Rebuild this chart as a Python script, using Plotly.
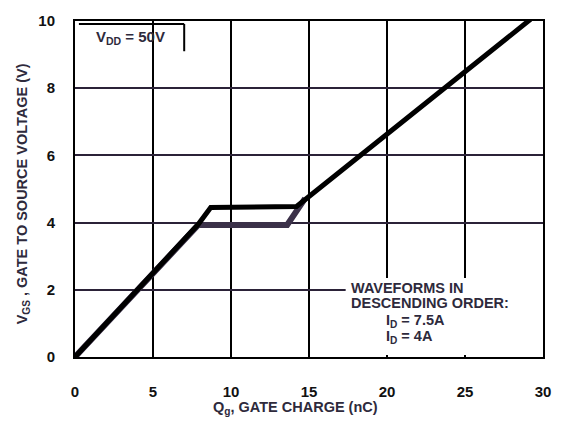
import plotly.graph_objects as go

# Data
qg_75 = [0, 7.9, 8.7, 14.2, 29.2]
vgs_75 = [0, 3.95, 4.45, 4.48, 10.05]
qg_4 = [0, 7.9, 13.6, 14.75]
vgs_4 = [0, 3.93, 3.93, 4.72]
x_ticks = [0, 5, 10, 15, 20, 25, 30]
y_ticks = [0, 2, 4, 6, 8, 10]

FONT = "Liberation Sans, Arial, sans-serif"
TXT = "#2e2a3c"
L, R, T, B = 75, 547, 13, 357

fig = go.Figure()
fig.add_trace(go.Scatter(x=qg_4, y=vgs_4, mode="lines",
                         line=dict(color="#3b3149", width=6), name="I<sub>D</sub> = 4A",
                         hoverinfo="skip"))
fig.add_trace(go.Scatter(x=qg_75, y=vgs_75, mode="lines",
                         line=dict(color="#000000", width=5), name="I<sub>D</sub> = 7.5A",
                         hoverinfo="skip"))

fig.update_layout(
    width=563, height=421,
    margin=dict(l=L, r=563 - R, t=T, b=421 - B),
    paper_bgcolor="white", plot_bgcolor="white",
    showlegend=False,
    font=dict(family=FONT, size=14, color="#111111", weight="bold"),
)
fig.update_xaxes(range=[0, 30], tickvals=x_ticks, ticktext=[str(v) for v in x_ticks],
                 showgrid=True, gridcolor="#000000", gridwidth=2,
                 showline=True, linecolor="#000000", linewidth=2, mirror=True,
                 zeroline=False, ticks="", ticklabelstandoff=20,
                 tickfont=dict(size=15, family=FONT, color="#111111", weight="bold"))
fig.update_yaxes(range=[0, 10], tickvals=y_ticks, ticktext=[str(v) for v in y_ticks],
                 showgrid=True, gridcolor="#2b2238", gridwidth=2,
                 showline=True, linecolor="#000000", linewidth=2, mirror=True,
                 zeroline=False, ticks="", ticklabelstandoff=15,
                 tickfont=dict(size=15, family=FONT, color="#111111", weight="bold"))

# white box for the legend text, covering grid
fig.add_shape(type="rect", xref="x", yref="y", x0=17.35, x1=30, y0=0.06, y1=2.35,
              fillcolor="white", line=dict(width=0), layer="between")
# VDD box lines
fig.add_shape(type="line", xref="x", yref="y", x0=0.25, x1=7.0, y0=9.91, y1=9.91,
              line=dict(color="#000000", width=2))
fig.add_shape(type="line", xref="x", yref="y", x0=7.0, x1=7.0, y0=9.1, y1=9.91,
              line=dict(color="#000000", width=2))


def px_x(p):
    return (p - L) / (R - L)


def px_y(p):
    return (B - p) / (B - T)


def ann(text, x, y, size=14, xanchor="left", **kw):
    fig.add_annotation(text=text, x=px_x(x), y=px_y(y), xref="paper", yref="paper",
                       xanchor=xanchor, yanchor="middle", showarrow=False,
                       font=dict(family=FONT, size=size, color=TXT, weight="bold"), **kw)


ann("V<sub>DD</sub> = 50V", 94, 30, size=15)
ann("WAVEFORMS IN", 351, 286, size=14.5)
ann("DESCENDING ORDER:", 351, 302, size=14.5)
ann("I<sub>D</sub> = 7.5A", 387, 320, size=14.5)
ann("I<sub>D</sub> = 4A", 387, 337, size=14.5)

# axis titles
ann("Q<sub>g</sub>, GATE CHARGE (nC)", 297, 409, size=14.5, xanchor="center")
ann("V<sub>GS</sub> , GATE TO SOURCE VOLTAGE (V)", 22, 190, size=14.5,
    xanchor="center", textangle=-90)

fig.write_html("out.html")
